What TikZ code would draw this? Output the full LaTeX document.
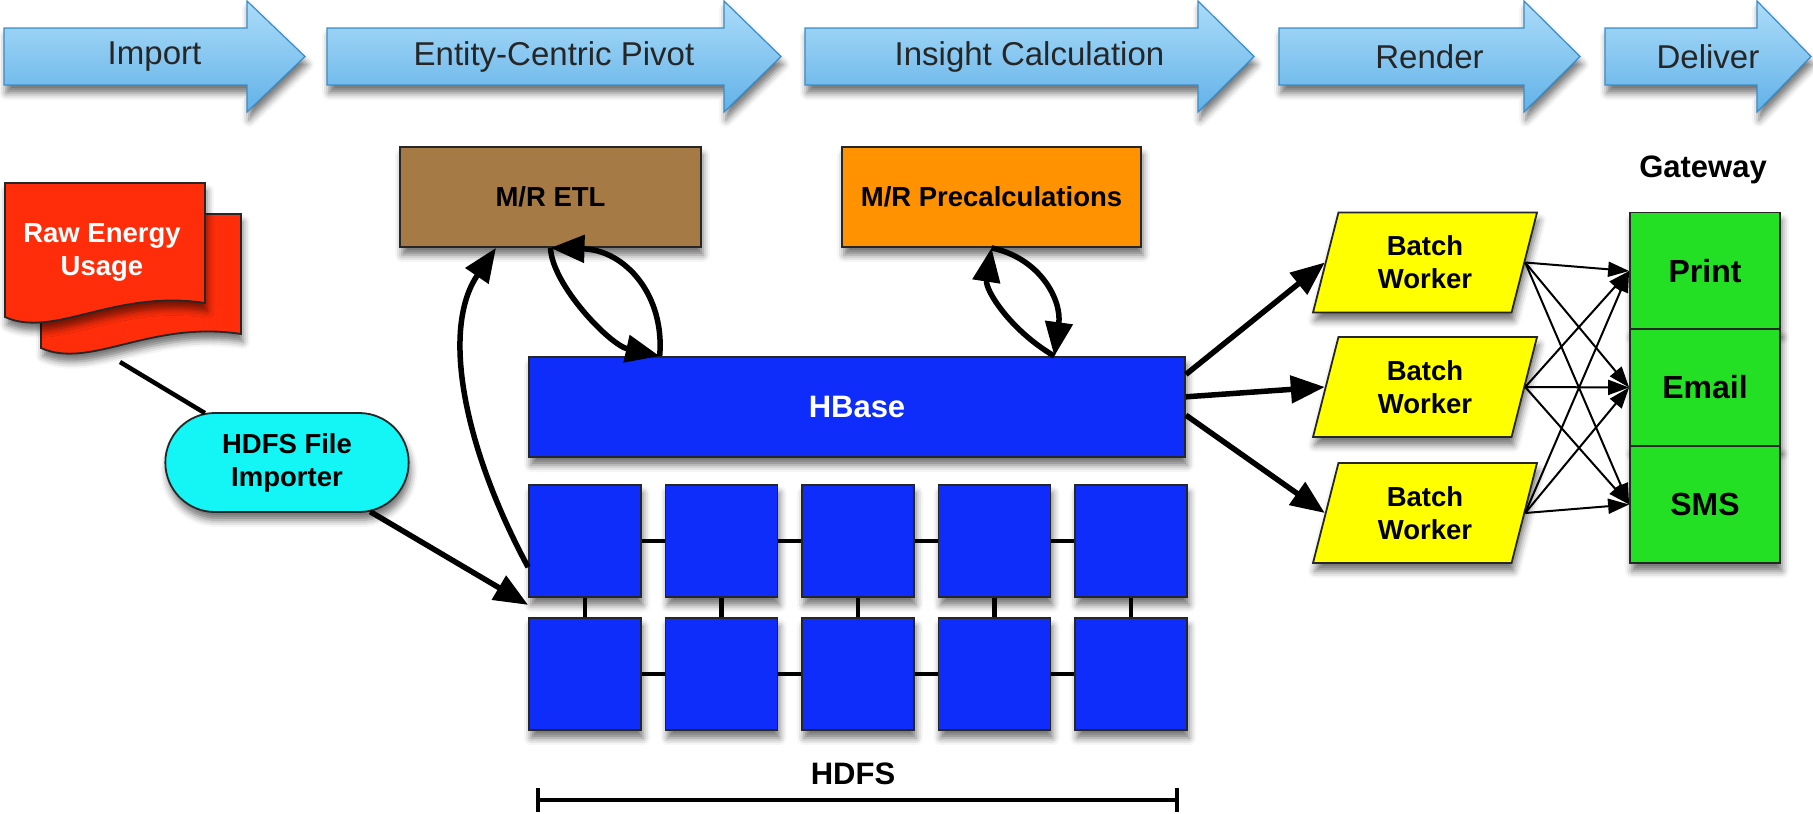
\documentclass[tikz,border=0pt]{standalone}
\usepackage{fontspec}
\setmainfont{Liberation Sans}
\usetikzlibrary{shapes.geometric,shapes.misc,arrows.meta,calc,shadows.blur}

\definecolor{stagetop}{RGB}{172,220,249}
\definecolor{stagebot}{RGB}{98,178,232}
\definecolor{stageedge}{RGB}{58,140,200}
\definecolor{rawred}{RGB}{255,45,10}
\definecolor{impcyan}{RGB}{20,245,245}
\definecolor{etlbrown}{RGB}{166,122,68}
\definecolor{preorange}{RGB}{255,146,0}
\definecolor{hblue}{RGB}{14,44,250}
\definecolor{wyellow}{RGB}{255,255,0}
\definecolor{ggreen}{RGB}{36,224,36}

\tikzset{
  softshadow/.style={blur shadow={shadow xshift=2pt, shadow yshift=-8pt,
      shadow blur radius=7pt, shadow opacity=55}},
  stagearrow/.style={draw=stageedge, line width=1.2pt, top color=stagetop,
      bottom color=stagebot, softshadow},
  stagelabel/.style={font=\fontsize{33}{38}\selectfont, text=black!85},
  boxlabel/.style={font=\bfseries\fontsize{27.5}{33}\selectfont, align=center},
  shapeedge/.style={draw=black!85, line width=1.8pt, softshadow},
  boxnode/.style={shapeedge, boxlabel, rectangle, inner sep=0pt},
  block/.style={shapeedge, fill=hblue, rectangle, minimum width=112pt,
      minimum height=112pt, inner sep=0pt},
  worker/.style={shapeedge, boxlabel, fill=wyellow, trapezium,
      trapezium left angle=66, trapezium right angle=114,
      trapezium stretches body, minimum width=224pt, minimum height=100pt,
      inner sep=2pt},
  cell/.style={boxnode, fill=ggreen, minimum width=150pt, minimum height=117pt,
      font=\bfseries\fontsize{32}{36}\selectfont},
  link/.style={line width=4.5pt, black},
  bigarrow/.style={line width=5.5pt, black, -{Triangle[length=34pt,width=27pt]}},
  thinarrow/.style={line width=2pt, black, -{Triangle[length=21pt,width=15pt]}},
  rawdoc/.style={shapeedge, fill=rawred},
}

% one stage of the process banner: name, tail x, head base x, tip x, text
\newcommand\stagearrow[5]{%
  \path[stagearrow] (#2,28) -- (#3,28) -- (#3,1) -- (#4,56.5) -- (#3,112)
    -- (#3,85) -- (#2,85) -- cycle;
  \node[stagelabel] (#1) at ({(#2+#4)/2},57) {#5};
}

\begin{document}
\begin{tikzpicture}[x=1pt,y=-1pt]
\useasboundingbox (0,0) rectangle (1813,814);

% process stages
\stagearrow{import}{4}{247}{305}{Import}
\stagearrow{pivot}{327}{724}{781}{Entity-Centric Pivot}
\stagearrow{insight}{805}{1198}{1254}{Insight Calculation}
\stagearrow{render}{1279}{1524}{1580}{Render}
\stagearrow{deliver}{1605}{1757}{1811}{Deliver}

% raw data (stacked document)
\path[rawdoc] (41,214) -- (241,214) -- (241,334)
  .. controls (150,320) and (90,370) .. (41,348) -- cycle;
\path[rawdoc] (5,183) -- (205,183) -- (205,303)
  .. controls (114,289) and (54,339) .. (5,317) -- cycle;
\node[boxlabel, text=white] (raw) at (102,252) {Raw Energy\\Usage};
\coordinate (rawout) at (120,362);

% importer
\node[rounded rectangle, shapeedge, boxlabel, fill=impcyan,
      minimum width=250pt, minimum height=99pt] (imp) at (287,462.5)
      {HDFS File\\Importer};

% map/reduce jobs
\node[boxnode, fill=etlbrown, minimum width=301pt, minimum height=100pt] (etl)
      at (550.5,197) {M/R ETL};
\node[boxnode, fill=preorange, minimum width=299pt, minimum height=100pt] (pre)
      at (991.5,197) {M/R Precalculations};

% HBase
\node[boxnode, fill=hblue, text=white, minimum width=656pt, minimum height=100pt,
      font=\bfseries\fontsize{31}{36}\selectfont] (hbase) at (857,407) {HBase};

% HDFS cluster
\foreach \i/\x in {1/585,2/721.5,3/858,4/994.5,5/1131}{
  \node[block] (a\i) at (\x,541) {};
  \node[block] (b\i) at (\x,674) {};
}
\foreach \i/\j in {1/2,2/3,3/4,4/5}{
  \draw[link] (a\i) -- (a\j);
  \draw[link] (b\i) -- (b\j);
}
\foreach \i in {1,...,5}{ \draw[link] (a\i) -- (b\i); }

\node[boxlabel, font=\bfseries\fontsize{31}{36}\selectfont] (hdfs) at (853,774) {HDFS};
\coordinate (hdl) at (538,800);
\coordinate (hdr) at (1177,800);
\draw[link] (hdl) -- (hdr);
\draw[link] ([yshift=12pt]hdl) -- ([yshift=-12pt]hdl);
\draw[link] ([yshift=12pt]hdr) -- ([yshift=-12pt]hdr);

% batch workers
\node[worker] (w1) at (1425,262.5) {Batch\\Worker};
\node[worker] (w2) at (1425,387) {Batch\\Worker};
\node[worker] (w3) at (1425,513) {Batch\\Worker};

% gateway
\node[boxlabel, font=\bfseries\fontsize{31}{36}\selectfont] (gw) at (1703,170) {Gateway};
\node[cell] (print) at (1705,271) {Print};
\node[cell] (email) at (1705,387.5) {Email};
\node[cell] (sms) at (1705,504.5) {SMS};

% import flow
\draw[link] (rawout) -- (imp);
\draw[bigarrow] (imp) -- ([yshift=-7pt]a1.south west);

% cluster to ETL
\draw[bigarrow] ($(a1.north west)!0.73!(a1.south west)$)
  .. controls (465,450) and (440,330) .. ($(etl.south west)!0.32!(etl.south east)$);

% ETL <-> HBase
\coordinate (hbA) at ($(hbase.north west)!0.2!(hbase.north east)$);
\draw[bigarrow] (etl.south) .. controls (552,285) and (610,345) .. (hbA);
\draw[bigarrow] (hbA) .. controls (665,295) and (625,250) .. (etl.south);

% Precalculations <-> HBase
\coordinate (hbB) at ($(hbase.north west)!0.8!(hbase.north east)$);
\draw[bigarrow] (hbB) .. controls (1010,330) and (985,290) .. (pre.south);
\draw[bigarrow] (pre.south) .. controls (1040,258) and (1062,300) .. (hbB);

% HBase to workers
\foreach \w/\f in {w1/0.18,w2/0.40,w3/0.58}{
  \draw[bigarrow] ($(hbase.north east)!\f!(hbase.south east)$)
    -- ($(\w.top left corner)!0.5!(\w.bottom left corner)$);
}

% workers to gateway channels
\foreach \w in {w1,w2,w3}{
  \foreach \c in {print,email,sms}{
    \draw[thinarrow] ($(\w.top right corner)!0.5!(\w.bottom right corner)$) -- (\c.west);
  }
}
\end{tikzpicture}
\end{document}
